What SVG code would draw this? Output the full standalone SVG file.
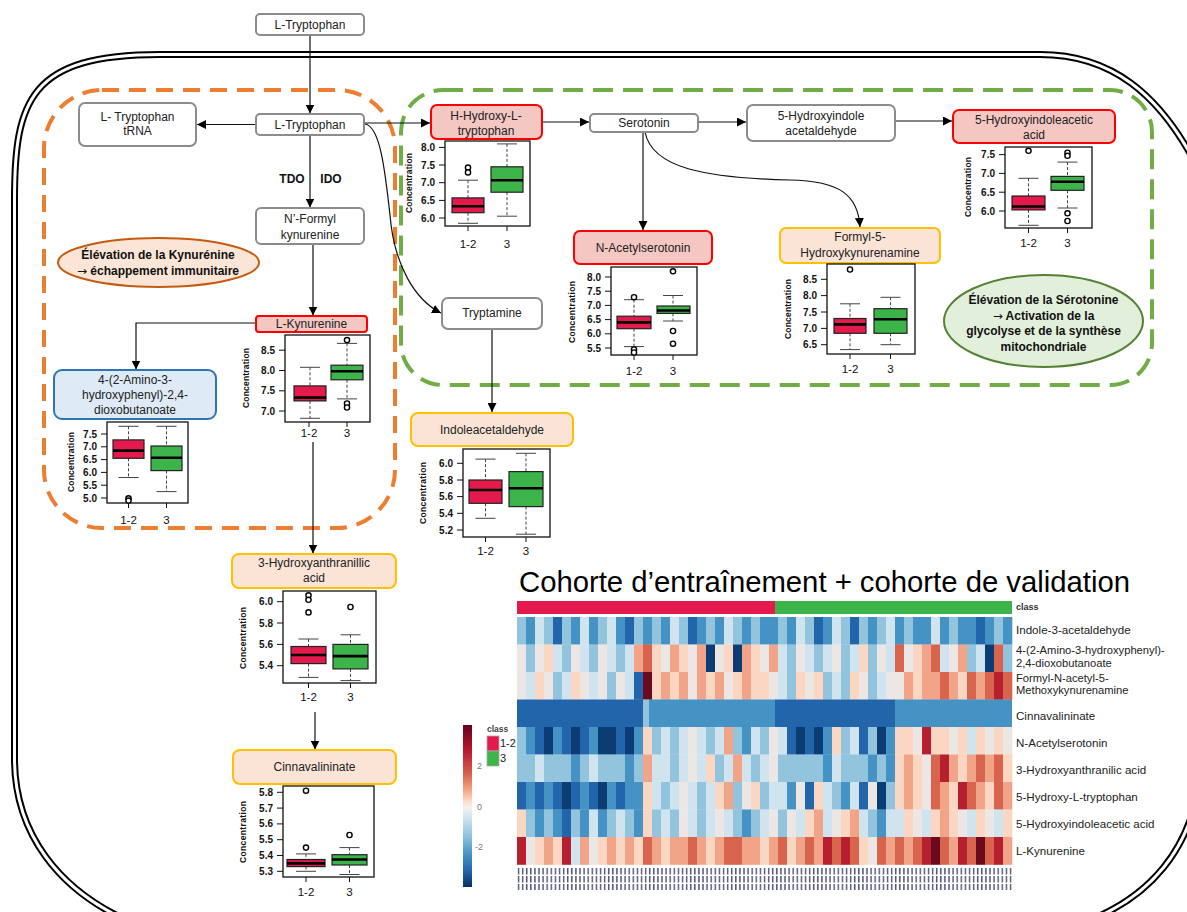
<svg xmlns="http://www.w3.org/2000/svg" width="1187" height="912" viewBox="0 0 1187 912">
<style>
text{font-family:"Liberation Sans",Arial,sans-serif}
.n{font-size:12px;fill:#222;text-anchor:middle}
.bd{font-weight:bold;fill:#111}
.ar{font-family:"DejaVu Sans",sans-serif;font-weight:normal;font-size:12px}
.gy{fill:#fff;stroke:#8c8c8c;stroke-width:2}
.rd{fill:#f4c7c3;stroke:#ff0000;stroke-width:2}
.or{fill:#fbe4d6;stroke:#ffc000;stroke-width:2}
.bl{fill:#deebf7;stroke:#2e75b6;stroke-width:2}
.ek{fill:#fbe5d6;stroke:#c55a11;stroke-width:2}
.es{fill:#e2efda;stroke:#548235;stroke-width:2}
.cn{fill:none;stroke:#111;stroke-width:1.2;marker-end:url(#ah)}
.fr{fill:#fff;stroke:#111;stroke-width:1.3}
.ax{stroke:#111;stroke-width:1;fill:none}
.tk{font-size:10px;font-weight:bold;text-anchor:end;fill:#111}
.cl{font-size:8.5px;font-weight:bold;text-anchor:middle;fill:#111}
.xl{font-size:11.5px;text-anchor:middle;fill:#111}
.bR{fill:#e31a4b;stroke:#222;stroke-width:1.2}
.bG{fill:#3cb44a;stroke:#222;stroke-width:1.2}
.md{stroke:#000;stroke-width:2.6}
.wk{stroke:#444;stroke-width:1;stroke-dasharray:3 2;fill:none}
.cp{stroke:#444;stroke-width:1}
.ol{fill:#fff;stroke:#000;stroke-width:1.4}
.hl{font-size:11.6px;fill:#222}
.h2{font-size:11.2px;fill:#222}
.hm rect{width:9.3px;height:27.8px}
.a{fill:#0b3c74}.b{fill:#2265ab}.c{fill:#4592c4}.d{fill:#92c4de}.e{fill:#d0e4ef}.f{fill:#ece7e4}.g{fill:#fbd6c3}.h{fill:#f1a487}.i{fill:#d8644e}.j{fill:#b51f2e}.k{fill:#6a0a1f}
</style>
<defs>
<marker id="ah" viewBox="0 0 10 10" refX="10" refY="5" markerWidth="9" markerHeight="9" markerUnits="userSpaceOnUse" orient="auto"><path d="M0,0L10,5L0,10z" fill="#000"/></marker>
<linearGradient id="cb" x1="0" y1="0" x2="0" y2="1">
<stop offset="0" stop-color="#67001f"/><stop offset="0.15" stop-color="#b2182b"/><stop offset="0.3" stop-color="#d6604d"/><stop offset="0.4" stop-color="#f4a582"/><stop offset="0.47" stop-color="#fddbc7"/><stop offset="0.51" stop-color="#f4f2f0"/><stop offset="0.57" stop-color="#d1e5f0"/><stop offset="0.68" stop-color="#92c5de"/><stop offset="0.8" stop-color="#4393c3"/><stop offset="0.9" stop-color="#2166ac"/><stop offset="1" stop-color="#053061"/>
</linearGradient>
<pattern id="clp" width="4.1" height="24" patternUnits="userSpaceOnUse" x="517" y="867"><path d="M1.5,1v6.5M1.5,9v6.5M1.5,17v6" stroke="#2a2f5a" stroke-width="1.5"/></pattern>
</defs>

<g id="cell-boundary" fill="none">
<path d="M140,926 C55,892 15,830 14.5,760 L14.5,200 C14.5,100 30,54.5 160,54.5 L1040,54.5 C1110,54.5 1160,92 1200,172" stroke="#000" stroke-width="7"/>
<path d="M140,926 C55,892 15,830 14.5,760 L14.5,200 C14.5,100 30,54.5 160,54.5 L1040,54.5 C1110,54.5 1160,92 1200,172" stroke="#fff" stroke-width="3"/>
<path d="M1200,780 C1190,850 1150,896 1090,920" stroke="#000" stroke-width="7"/>
<path d="M1200,780 C1190,850 1150,896 1090,920" stroke="#fff" stroke-width="3"/>
</g>

<g id="regions" fill="none" stroke-width="4">
<rect x="44" y="90" width="351" height="438" rx="58" stroke="#ed7d31" stroke-dasharray="17 10"/>
<rect x="401" y="90" width="751" height="295" rx="42" stroke="#70ad47" stroke-dasharray="20 10"/>
</g>

<g id="connectors">
<path class="cn" d="M310,35V113.5"/>
<path class="cn" d="M256,124.5H197"/>
<path class="cn" d="M364,123H430"/>
<path class="cn" d="M310,135V207.5"/>
<path class="cn" d="M313,244V315.5"/>
<path class="cn" d="M256,323H136V369.5"/>
<path class="cn" d="M313,442V553.5"/>
<path class="cn" d="M315,712V749.5"/>
<path class="cn" d="M365,124C380,126 385,170 390,215C394,265 415,300 441,313"/>
<path class="cn" d="M542,122H589"/>
<path class="cn" d="M698,122H746"/>
<path class="cn" d="M895,121H952"/>
<path class="cn" d="M643,132V230"/>
<path class="cn" d="M645,132C652,168 705,178 790,180C840,181 858,195 860,227"/>
<path class="cn" d="M492,329V412"/>
</g>

<g id="n-trp-top"><rect class="gy" x="256" y="14" width="108" height="21" rx="4"/><text class="n" x="310" y="29">L-Tryptophan</text></g>
<g id="n-trp"><rect class="gy" x="256" y="114" width="108" height="21" rx="4"/><text class="n" x="310" y="129">L-Tryptophan</text></g>
<g id="n-trna"><rect class="gy" x="79" y="103" width="117" height="43" rx="6"/><text class="n" x="137.5" y="121">L- Tryptophan</text><text class="n" x="137.5" y="135">tRNA</text></g>
<g id="n-nfk"><rect class="gy" x="256" y="208" width="108" height="36" rx="5"/><text class="n" x="310" y="223">N’-Formyl</text><text class="n" x="310" y="239">kynurenine</text></g>
<g id="enzymes"><text class="n bd" x="292" y="183">TDO</text><text class="n bd" x="331" y="183">IDO</text></g>
<g id="note-kyn"><ellipse class="ek" cx="158.5" cy="262.5" rx="100.5" ry="24.5"/><text class="n bd" x="158" y="259">Élévation de la Kynurénine</text><text class="n bd" x="158" y="275"><tspan class="ar">→</tspan> échappement immunitaire</text></g>

<g id="n-lkyn"><rect class="rd" x="256" y="316" width="111" height="16" rx="3"/><text class="n" x="311.5" y="328">L-Kynurenine</text>
<rect class="fr" x="285" y="335" width="85" height="87"/>
<path class="ax" d="M279,350.2h6M279,370.5h6M279,390.8h6M279,411h6M309,422v5M347,422v5"/>
<text class="tk" x="275" y="353.7">8.5</text><text class="tk" x="275" y="374">8.0</text><text class="tk" x="275" y="394.3">7.5</text><text class="tk" x="275" y="414.5">7.0</text>
<text class="cl" transform="translate(249,378) rotate(-90)" textLength="60">Concentration</text>
<text class="xl" x="309" y="437">1-2</text><text class="xl" x="347" y="437">3</text>
<path class="wk" d="M310,367.3V385.9M310,400.9V418.3M347,343.4V365.2M347,379.8V398.9"/>
<path class="cp" d="M300,367.3h20M300,418.3h20M337,343.4h20M337,398.9h20"/>
<rect class="bR" x="294" y="385.9" width="32" height="15"/><rect class="bG" x="331" y="365.2" width="32" height="14.6"/>
<path class="md" d="M294,397.6h32M331,371.3h32"/>
<circle class="ol" cx="347" cy="340.1" r="2.6"/><circle class="ol" cx="347" cy="403.5" r="2.6"/><circle class="ol" cx="347" cy="407.5" r="2.6"/>
</g>

<g id="n-ahdb"><rect class="bl" x="54" y="370" width="162" height="49" rx="8"/><text class="n" x="135" y="384">4-(2-Amino-3-</text><text class="n" x="135" y="399">hydroxyphenyl)-2,4-</text><text class="n" x="135" y="414">dioxobutanoate</text>
<rect class="fr" x="107" y="422" width="81" height="81"/>
<path class="ax" d="M101,434h6M101,446.8h6M101,459.6h6M101,472.4h6M101,485.2h6M101,498h6M128.5,503v5M166.5,503v5"/>
<text class="tk" x="97" y="437.5">7.5</text><text class="tk" x="97" y="450.3">7.0</text><text class="tk" x="97" y="463.1">6.5</text><text class="tk" x="97" y="475.9">6.0</text><text class="tk" x="97" y="488.7">5.5</text><text class="tk" x="97" y="501.5">5.0</text>
<text class="cl" transform="translate(74,462) rotate(-90)" textLength="60">Concentration</text>
<text class="xl" x="128.5" y="524">1-2</text><text class="xl" x="166.5" y="524">3</text>
<path class="wk" d="M128.5,426.3V439.9M128.5,458.3V477.5M166.5,426.3V446M166.5,470.6V491.6"/>
<path class="cp" d="M118.5,426.3h20M118.5,477.5h20M156.5,426.3h20M156.5,491.6h20"/>
<rect class="bR" x="113" y="439.9" width="31" height="18.4"/><rect class="bG" x="151" y="446" width="31" height="24.6"/>
<path class="md" d="M113,450.6h31M151,457.8h31"/>
<circle class="ol" cx="128.5" cy="498.3" r="2.6"/><circle class="ol" cx="128.5" cy="500.6" r="2.6"/>
</g>

<g id="n-5htp"><rect class="rd" x="431" y="105" width="111" height="34" rx="6"/><text class="n" x="486" y="120">H-Hydroxy-L-</text><text class="n" x="486" y="135">tryptophan</text>
<rect class="fr" x="445" y="141" width="85" height="85"/>
<path class="ax" d="M439,147.4h6M439,165h6M439,182.7h6M439,200.4h6M439,218h6M468,226v5M507,226v5"/>
<text class="tk" x="435" y="150.9">8.0</text><text class="tk" x="435" y="168.5">7.5</text><text class="tk" x="435" y="186.2">7.0</text><text class="tk" x="435" y="203.9">6.5</text><text class="tk" x="435" y="221.5">6.0</text>
<text class="cl" transform="translate(412,183) rotate(-90)" textLength="60">Concentration</text>
<text class="xl" x="468" y="248">1-2</text><text class="xl" x="507" y="248">3</text>
<path class="wk" d="M468,180.2V197.9M468,212.7V223.3M507,143.9V166.8M507,192.2V216.2"/>
<path class="cp" d="M458,180.2h20M458,223.3h20M497,143.9h20M497,216.2h20"/>
<rect class="bR" x="452" y="197.9" width="32" height="14.8"/><rect class="bG" x="491" y="166.8" width="32" height="25.4"/>
<path class="md" d="M452,206.3h32M491,180.2h32"/>
<circle class="ol" cx="468" cy="167.6" r="2.6"/><circle class="ol" cx="468" cy="172.4" r="2.6"/>
</g>

<g id="n-sero"><rect class="gy" x="590" y="114" width="108" height="18" rx="4"/><text class="n" x="644" y="127">Serotonin</text></g>
<g id="n-5hial"><rect class="gy" x="747" y="105" width="148" height="36" rx="6"/><text class="n" x="821" y="120">5-Hydroxyindole</text><text class="n" x="821" y="135">acetaldehyde</text></g>

<g id="n-5hiaa"><rect class="rd" x="953" y="110" width="162" height="33" rx="6"/><text class="n" x="1034" y="124">5-Hydroxyindoleacetic</text><text class="n" x="1034" y="139">acid</text>
<rect class="fr" x="1005" y="147" width="87" height="81"/>
<path class="ax" d="M999,154.6h6M999,173.4h6M999,192.2h6M999,211h6M1028.5,228v5M1067.5,228v5"/>
<text class="tk" x="995" y="158.1">7.5</text><text class="tk" x="995" y="176.9">7.0</text><text class="tk" x="995" y="195.7">6.5</text><text class="tk" x="995" y="214.5">6.0</text>
<text class="cl" transform="translate(971,187) rotate(-90)" textLength="60">Concentration</text>
<text class="xl" x="1028.5" y="247">1-2</text><text class="xl" x="1067.5" y="247">3</text>
<path class="wk" d="M1028.5,178.3V196M1028.5,209.9V225.3M1067.5,162.1V176.4M1067.5,190.3V208"/>
<path class="cp" d="M1018.5,178.3h20M1018.5,225.3h20M1057.5,162.1h20M1057.5,208h20"/>
<rect class="bR" x="1012" y="196" width="33" height="13.9"/><rect class="bG" x="1051" y="176.4" width="33" height="13.9"/>
<path class="md" d="M1012,206.5h33M1051,181.7h33"/>
<circle class="ol" cx="1028.5" cy="150.8" r="2.6"/><circle class="ol" cx="1067.5" cy="152.7" r="2.6"/><circle class="ol" cx="1067.5" cy="155.8" r="2.6"/><circle class="ol" cx="1067.5" cy="213.3" r="2.6"/><circle class="ol" cx="1067.5" cy="221" r="2.6"/>
</g>

<g id="n-nas"><rect class="rd" x="574" y="231" width="138" height="33" rx="6"/><text class="n" x="643" y="252">N-Acetylserotonin</text>
<rect class="fr" x="611" y="267" width="86" height="88"/>
<path class="ax" d="M605,277h6M605,291.2h6M605,305.4h6M605,319.6h6M605,333.8h6M605,348h6M634,355v5M673,355v5"/>
<text class="tk" x="601" y="280.5">8.0</text><text class="tk" x="601" y="294.7">7.5</text><text class="tk" x="601" y="308.9">7.0</text><text class="tk" x="601" y="323.1">6.5</text><text class="tk" x="601" y="337.3">6.0</text><text class="tk" x="601" y="351.5">5.5</text>
<text class="cl" transform="translate(575,312) rotate(-90)" textLength="62">Concentration</text>
<text class="xl" x="634" y="375">1-2</text><text class="xl" x="673" y="375">3</text>
<path class="wk" d="M634,299.7V316.2M634,328.7V346.6M673,295.5V306M673,313.4V321"/>
<path class="cp" d="M624,299.7h20M624,346.6h20M663,295.5h20M663,321h20"/>
<rect class="bR" x="617" y="316.2" width="34" height="12.5"/><rect class="bG" x="657" y="306" width="33" height="7.4"/>
<path class="md" d="M617,322.4h34M657,310.5h33"/>
<circle class="ol" cx="634" cy="297.2" r="2.6"/><circle class="ol" cx="634" cy="349.5" r="2.6"/><circle class="ol" cx="634" cy="352.5" r="2.6"/><circle class="ol" cx="673" cy="271.3" r="2.6"/><circle class="ol" cx="673" cy="331" r="2.6"/><circle class="ol" cx="673" cy="343.7" r="2.6"/>
</g>

<g id="n-f5hk"><rect class="or" x="780" y="228" width="160" height="35" rx="6"/><text class="n" x="860" y="241">Formyl-5-</text><text class="n" x="860" y="257">Hydroxykynurenamine</text>
<rect class="fr" x="827" y="264" width="88" height="90"/>
<path class="ax" d="M821,279.3h6M821,295.6h6M821,312h6M821,328.4h6M821,344.7h6M850,354v5M890.5,354v5"/>
<text class="tk" x="817" y="282.8">8.5</text><text class="tk" x="817" y="299.1">8.0</text><text class="tk" x="817" y="315.5">7.5</text><text class="tk" x="817" y="331.9">7.0</text><text class="tk" x="817" y="348.2">6.5</text>
<text class="cl" transform="translate(791,309) rotate(-90)" textLength="60">Concentration</text>
<text class="xl" x="850" y="373">1-2</text><text class="xl" x="890.5" y="373">3</text>
<path class="wk" d="M850,303.8V318.5M850,333.3V349.6M890.5,297.3V308.7M890.5,333.3V344.7"/>
<path class="cp" d="M840,303.8h20M840,349.6h20M880.5,297.3h20M880.5,344.7h20"/>
<rect class="bR" x="834" y="318.5" width="32" height="14.8"/><rect class="bG" x="874" y="308.7" width="33" height="24.6"/>
<path class="md" d="M834,324.4h32M874,319.2h33"/>
<circle class="ol" cx="850" cy="269.5" r="2.6"/>
</g>

<g id="note-sero"><ellipse class="es" cx="1043.5" cy="321" rx="99.5" ry="46"/><text class="n bd" x="1043.5" y="304">Élévation de la Sérotonine</text><text class="n bd" x="1043.5" y="319.5"><tspan class="ar">→</tspan> Activation de la</text><text class="n bd" x="1043.5" y="335">glycolyse et de la synthèse</text><text class="n bd" x="1043.5" y="350.5">mitochondriale</text></g>

<g id="n-tryptamine"><rect class="gy" x="442" y="298" width="100" height="31" rx="6"/><text class="n" x="492" y="317">Tryptamine</text></g>

<g id="n-ial"><rect class="or" x="411" y="413" width="162" height="33" rx="7"/><text class="n" x="492" y="434">Indoleacetaldehyde</text>
<rect class="fr" x="463" y="449" width="87" height="88"/>
<path class="ax" d="M457,463.3h6M457,480h6M457,496.6h6M457,513.3h6M457,530h6M485.5,537v5M526,537v5"/>
<text class="tk" x="453" y="466.8">6.0</text><text class="tk" x="453" y="483.5">5.8</text><text class="tk" x="453" y="500.1">5.6</text><text class="tk" x="453" y="516.8">5.4</text><text class="tk" x="453" y="533.5">5.2</text>
<text class="cl" transform="translate(426,493) rotate(-90)" textLength="62">Concentration</text>
<text class="xl" x="485.5" y="555">1-2</text><text class="xl" x="526" y="555">3</text>
<path class="wk" d="M485.5,459.1V480M485.5,503.3V518.3M526,453.3V471.6M526,506.6V534.2"/>
<path class="cp" d="M475.5,459.1h20M475.5,518.3h20M516,453.3h20M516,534.2h20"/>
<rect class="bR" x="469" y="480" width="33" height="23.3"/><rect class="bG" x="509" y="471.6" width="34" height="35"/>
<path class="md" d="M469,490h33M509,488.3h34"/>
</g>

<g id="n-3ha"><rect class="or" x="232" y="554" width="164" height="34" rx="7"/><text class="n" x="314" y="567">3-Hydroxyanthranillic</text><text class="n" x="314" y="582">acid</text>
<rect class="fr" x="283" y="591" width="93" height="92"/>
<path class="ax" d="M277,601.7h6M277,623h6M277,644.4h6M277,665.7h6M308.5,683v5M350.5,683v5"/>
<text class="tk" x="273" y="605.2">6.0</text><text class="tk" x="273" y="626.5">5.8</text><text class="tk" x="273" y="647.9">5.6</text><text class="tk" x="273" y="669.2">5.4</text>
<text class="cl" transform="translate(246,638) rotate(-90)" textLength="62">Concentration</text>
<text class="xl" x="308.5" y="701">1-2</text><text class="xl" x="350.5" y="701">3</text>
<path class="wk" d="M308.5,639V646.5M308.5,663.6V677.4M350.5,634.8V644.4M350.5,668.9V680.6"/>
<path class="cp" d="M298.5,639h20M298.5,677.4h20M340.5,634.8h20M340.5,680.6h20"/>
<rect class="bR" x="291" y="646.5" width="35" height="17.1"/><rect class="bG" x="333" y="644.4" width="35" height="24.5"/>
<path class="md" d="M291,655h35M333,656.1h35"/>
<circle class="ol" cx="308.5" cy="595.3" r="2.6"/><circle class="ol" cx="308.5" cy="599.8" r="2.6"/><circle class="ol" cx="308.5" cy="612.4" r="2.6"/><circle class="ol" cx="350.5" cy="607" r="2.6"/>
</g>

<g id="n-cinna"><rect class="or" x="233" y="750" width="163" height="34" rx="7"/><text class="n" x="314.5" y="771">Cinnavalininate</text>
<rect class="fr" x="283" y="786" width="91" height="91"/>
<path class="ax" d="M277,792.3h6M277,808.1h6M277,823.9h6M277,839.7h6M277,855.5h6M277,871.3h6M306,877v5M349.5,877v5"/>
<text class="tk" x="273" y="795.8">5.8</text><text class="tk" x="273" y="811.6">5.7</text><text class="tk" x="273" y="827.4">5.6</text><text class="tk" x="273" y="843.2">5.5</text><text class="tk" x="273" y="859">5.4</text><text class="tk" x="273" y="874.8">5.3</text>
<text class="cl" transform="translate(246,832) rotate(-90)" textLength="62">Concentration</text>
<text class="xl" x="306" y="896">1-2</text><text class="xl" x="349.5" y="896">3</text>
<path class="wk" d="M306,853.9V859.5M306,866.6V871.3M349.5,847.6V854.7M349.5,865V874.5"/>
<path class="cp" d="M296,853.9h20M296,871.3h20M339.5,847.6h20M339.5,874.5h20"/>
<rect class="bR" x="287" y="859.5" width="38" height="7.1"/><rect class="bG" x="332" y="854.7" width="35" height="10.3"/>
<path class="md" d="M287,863.4h38M332,859.5h35"/>
<circle class="ol" cx="306" cy="790.7" r="2.6"/><circle class="ol" cx="306" cy="847.6" r="2.6"/><circle class="ol" cx="349.5" cy="835" r="2.6"/>
</g>

<g id="heatmap">
<text x="519" y="592" font-size="29" textLength="611" lengthAdjust="spacingAndGlyphs" fill="#000">Cohorte d’entraînement + cohorte de validation</text>
<rect x="517" y="601" width="258" height="13" fill="#e31a4b"/><rect x="775" y="601" width="237" height="13" fill="#3cb44a"/>
<text x="1016" y="610" font-size="9" font-weight="bold" fill="#333">class</text>
<g class="hm">
<g transform="translate(0,617)"><rect x="517" class="d"/><rect x="526" class="c"/><rect x="535" class="e"/><rect x="544" class="d"/><rect x="553" class="b"/><rect x="562" class="d"/><rect x="571" class="c"/><rect x="580" class="e"/><rect x="589" class="c"/><rect x="598" class="d"/><rect x="607" class="e"/><rect x="616" class="c"/><rect x="625" class="b"/><rect x="634" class="d"/><rect x="643" class="c"/><rect x="652" class="d"/><rect x="661" class="c"/><rect x="670" class="e"/><rect x="679" class="d"/><rect x="688" class="b"/><rect x="697" class="c"/><rect x="706" class="d"/><rect x="715" class="c"/><rect x="724" class="e"/><rect x="733" class="d"/><rect x="742" class="c"/><rect x="751" class="d"/><rect x="760" class="c"/><rect x="769" class="c"/><rect x="778" class="d"/><rect x="787" class="c"/><rect x="796" class="e"/><rect x="805" class="d"/><rect x="814" class="b"/><rect x="823" class="c"/><rect x="832" class="e"/><rect x="841" class="d"/><rect x="850" class="b"/><rect x="859" class="d"/><rect x="868" class="c"/><rect x="877" class="d"/><rect x="886" class="e"/><rect x="895" class="c"/><rect x="904" class="d"/><rect x="913" class="c"/><rect x="922" class="c"/><rect x="931" class="e"/><rect x="940" class="c"/><rect x="949" class="d"/><rect x="958" class="c"/><rect x="967" class="c"/><rect x="976" class="b"/><rect x="985" class="c"/><rect x="994" class="d"/><rect x="1003" class="c"/></g>
<g transform="translate(0,644.5)"><rect x="517" class="f"/><rect x="526" class="d"/><rect x="535" class="f"/><rect x="544" class="g"/><rect x="553" class="e"/><rect x="562" class="d"/><rect x="571" class="f"/><rect x="580" class="e"/><rect x="589" class="d"/><rect x="598" class="f"/><rect x="607" class="e"/><rect x="616" class="d"/><rect x="625" class="e"/><rect x="634" class="h"/><rect x="643" class="i"/><rect x="652" class="g"/><rect x="661" class="f"/><rect x="670" class="h"/><rect x="679" class="g"/><rect x="688" class="f"/><rect x="697" class="h"/><rect x="706" class="a"/><rect x="715" class="f"/><rect x="724" class="g"/><rect x="733" class="a"/><rect x="742" class="h"/><rect x="751" class="g"/><rect x="760" class="f"/><rect x="769" class="h"/><rect x="778" class="e"/><rect x="787" class="d"/><rect x="796" class="f"/><rect x="805" class="e"/><rect x="814" class="d"/><rect x="823" class="e"/><rect x="832" class="f"/><rect x="841" class="d"/><rect x="850" class="e"/><rect x="859" class="g"/><rect x="868" class="d"/><rect x="877" class="f"/><rect x="886" class="e"/><rect x="895" class="i"/><rect x="904" class="f"/><rect x="913" class="g"/><rect x="922" class="h"/><rect x="931" class="i"/><rect x="940" class="e"/><rect x="949" class="f"/><rect x="958" class="h"/><rect x="967" class="d"/><rect x="976" class="e"/><rect x="985" class="a"/><rect x="994" class="i"/><rect x="1003" class="d"/></g>
<g transform="translate(0,672)"><rect x="517" class="f"/><rect x="526" class="e"/><rect x="535" class="g"/><rect x="544" class="f"/><rect x="553" class="d"/><rect x="562" class="e"/><rect x="571" class="g"/><rect x="580" class="f"/><rect x="589" class="e"/><rect x="598" class="f"/><rect x="607" class="d"/><rect x="616" class="f"/><rect x="625" class="e"/><rect x="634" class="b"/><rect x="643" class="k"/><rect x="652" class="g"/><rect x="661" class="h"/><rect x="670" class="g"/><rect x="679" class="h"/><rect x="688" class="f"/><rect x="697" class="h"/><rect x="706" class="g"/><rect x="715" class="h"/><rect x="724" class="f"/><rect x="733" class="g"/><rect x="742" class="h"/><rect x="751" class="g"/><rect x="760" class="g"/><rect x="769" class="f"/><rect x="778" class="e"/><rect x="787" class="d"/><rect x="796" class="g"/><rect x="805" class="f"/><rect x="814" class="g"/><rect x="823" class="d"/><rect x="832" class="e"/><rect x="841" class="d"/><rect x="850" class="g"/><rect x="859" class="f"/><rect x="868" class="d"/><rect x="877" class="e"/><rect x="886" class="f"/><rect x="895" class="f"/><rect x="904" class="h"/><rect x="913" class="g"/><rect x="922" class="h"/><rect x="931" class="h"/><rect x="940" class="i"/><rect x="949" class="h"/><rect x="958" class="g"/><rect x="967" class="i"/><rect x="976" class="h"/><rect x="985" class="i"/><rect x="994" class="j"/><rect x="1003" class="i"/></g>
</g>
<g id="row-cinna">
<rect x="517" y="699.5" width="126.3" height="27.8" class="b"/><rect x="643" y="699.5" width="6" height="27.8" class="d"/><rect x="649" y="699.5" width="126.3" height="27.8" class="c"/><rect x="775" y="699.5" width="120.3" height="27.8" class="b"/><rect x="895" y="699.5" width="117" height="27.8" class="c"/>
</g>
<g class="hm">
<g transform="translate(0,727)"><rect x="517" class="d"/><rect x="526" class="c"/><rect x="535" class="b"/><rect x="544" class="a"/><rect x="553" class="c"/><rect x="562" class="b"/><rect x="571" class="a"/><rect x="580" class="b"/><rect x="589" class="c"/><rect x="598" class="a"/><rect x="607" class="a"/><rect x="616" class="b"/><rect x="625" class="a"/><rect x="634" class="c"/><rect x="643" class="g"/><rect x="652" class="d"/><rect x="661" class="e"/><rect x="670" class="d"/><rect x="679" class="e"/><rect x="688" class="f"/><rect x="697" class="e"/><rect x="706" class="d"/><rect x="715" class="e"/><rect x="724" class="h"/><rect x="733" class="d"/><rect x="742" class="c"/><rect x="751" class="e"/><rect x="760" class="d"/><rect x="769" class="f"/><rect x="778" class="e"/><rect x="787" class="b"/><rect x="796" class="a"/><rect x="805" class="b"/><rect x="814" class="a"/><rect x="823" class="c"/><rect x="832" class="g"/><rect x="841" class="d"/><rect x="850" class="e"/><rect x="859" class="b"/><rect x="868" class="d"/><rect x="877" class="a"/><rect x="886" class="c"/><rect x="895" class="g"/><rect x="904" class="g"/><rect x="913" class="f"/><rect x="922" class="j"/><rect x="931" class="g"/><rect x="940" class="g"/><rect x="949" class="f"/><rect x="958" class="g"/><rect x="967" class="e"/><rect x="976" class="g"/><rect x="985" class="f"/><rect x="994" class="g"/><rect x="1003" class="f"/></g>
<g transform="translate(0,754.5)"><rect x="517" class="d"/><rect x="526" class="d"/><rect x="535" class="e"/><rect x="544" class="d"/><rect x="553" class="d"/><rect x="562" class="d"/><rect x="571" class="c"/><rect x="580" class="d"/><rect x="589" class="e"/><rect x="598" class="d"/><rect x="607" class="d"/><rect x="616" class="d"/><rect x="625" class="c"/><rect x="634" class="d"/><rect x="643" class="h"/><rect x="652" class="e"/><rect x="661" class="e"/><rect x="670" class="d"/><rect x="679" class="e"/><rect x="688" class="f"/><rect x="697" class="e"/><rect x="706" class="g"/><rect x="715" class="d"/><rect x="724" class="e"/><rect x="733" class="h"/><rect x="742" class="e"/><rect x="751" class="d"/><rect x="760" class="e"/><rect x="769" class="f"/><rect x="778" class="d"/><rect x="787" class="d"/><rect x="796" class="d"/><rect x="805" class="d"/><rect x="814" class="d"/><rect x="823" class="c"/><rect x="832" class="e"/><rect x="841" class="d"/><rect x="850" class="d"/><rect x="859" class="d"/><rect x="868" class="c"/><rect x="877" class="d"/><rect x="886" class="c"/><rect x="895" class="g"/><rect x="904" class="h"/><rect x="913" class="g"/><rect x="922" class="f"/><rect x="931" class="i"/><rect x="940" class="j"/><rect x="949" class="h"/><rect x="958" class="g"/><rect x="967" class="h"/><rect x="976" class="i"/><rect x="985" class="h"/><rect x="994" class="i"/><rect x="1003" class="g"/></g>
<g transform="translate(0,782)"><rect x="517" class="b"/><rect x="526" class="c"/><rect x="535" class="b"/><rect x="544" class="c"/><rect x="553" class="b"/><rect x="562" class="a"/><rect x="571" class="b"/><rect x="580" class="c"/><rect x="589" class="b"/><rect x="598" class="a"/><rect x="607" class="c"/><rect x="616" class="b"/><rect x="625" class="c"/><rect x="634" class="c"/><rect x="643" class="g"/><rect x="652" class="e"/><rect x="661" class="d"/><rect x="670" class="e"/><rect x="679" class="f"/><rect x="688" class="e"/><rect x="697" class="d"/><rect x="706" class="e"/><rect x="715" class="g"/><rect x="724" class="h"/><rect x="733" class="d"/><rect x="742" class="f"/><rect x="751" class="g"/><rect x="760" class="d"/><rect x="769" class="e"/><rect x="778" class="e"/><rect x="787" class="c"/><rect x="796" class="f"/><rect x="805" class="b"/><rect x="814" class="g"/><rect x="823" class="e"/><rect x="832" class="d"/><rect x="841" class="c"/><rect x="850" class="e"/><rect x="859" class="b"/><rect x="868" class="f"/><rect x="877" class="a"/><rect x="886" class="d"/><rect x="895" class="g"/><rect x="904" class="h"/><rect x="913" class="g"/><rect x="922" class="f"/><rect x="931" class="i"/><rect x="940" class="h"/><rect x="949" class="g"/><rect x="958" class="j"/><rect x="967" class="i"/><rect x="976" class="h"/><rect x="985" class="g"/><rect x="994" class="i"/><rect x="1003" class="h"/></g>
<g transform="translate(0,809.5)"><rect x="517" class="g"/><rect x="526" class="d"/><rect x="535" class="c"/><rect x="544" class="d"/><rect x="553" class="c"/><rect x="562" class="b"/><rect x="571" class="d"/><rect x="580" class="c"/><rect x="589" class="e"/><rect x="598" class="c"/><rect x="607" class="d"/><rect x="616" class="e"/><rect x="625" class="d"/><rect x="634" class="c"/><rect x="643" class="g"/><rect x="652" class="d"/><rect x="661" class="e"/><rect x="670" class="d"/><rect x="679" class="f"/><rect x="688" class="e"/><rect x="697" class="d"/><rect x="706" class="e"/><rect x="715" class="f"/><rect x="724" class="e"/><rect x="733" class="d"/><rect x="742" class="c"/><rect x="751" class="d"/><rect x="760" class="e"/><rect x="769" class="f"/><rect x="778" class="d"/><rect x="787" class="f"/><rect x="796" class="e"/><rect x="805" class="g"/><rect x="814" class="h"/><rect x="823" class="e"/><rect x="832" class="f"/><rect x="841" class="g"/><rect x="850" class="h"/><rect x="859" class="e"/><rect x="868" class="d"/><rect x="877" class="c"/><rect x="886" class="e"/><rect x="895" class="e"/><rect x="904" class="g"/><rect x="913" class="f"/><rect x="922" class="e"/><rect x="931" class="g"/><rect x="940" class="h"/><rect x="949" class="g"/><rect x="958" class="f"/><rect x="967" class="e"/><rect x="976" class="g"/><rect x="985" class="f"/><rect x="994" class="e"/><rect x="1003" class="g"/></g>
<g transform="translate(0,837)"><rect x="517" class="j"/><rect x="526" class="f"/><rect x="535" class="g"/><rect x="544" class="h"/><rect x="553" class="g"/><rect x="562" class="j"/><rect x="571" class="e"/><rect x="580" class="h"/><rect x="589" class="f"/><rect x="598" class="g"/><rect x="607" class="h"/><rect x="616" class="g"/><rect x="625" class="h"/><rect x="634" class="g"/><rect x="643" class="i"/><rect x="652" class="h"/><rect x="661" class="g"/><rect x="670" class="h"/><rect x="679" class="h"/><rect x="688" class="i"/><rect x="697" class="h"/><rect x="706" class="g"/><rect x="715" class="h"/><rect x="724" class="i"/><rect x="733" class="i"/><rect x="742" class="h"/><rect x="751" class="h"/><rect x="760" class="g"/><rect x="769" class="h"/><rect x="778" class="i"/><rect x="787" class="g"/><rect x="796" class="h"/><rect x="805" class="i"/><rect x="814" class="h"/><rect x="823" class="j"/><rect x="832" class="i"/><rect x="841" class="j"/><rect x="850" class="i"/><rect x="859" class="g"/><rect x="868" class="f"/><rect x="877" class="i"/><rect x="886" class="h"/><rect x="895" class="i"/><rect x="904" class="h"/><rect x="913" class="i"/><rect x="922" class="j"/><rect x="931" class="k"/><rect x="940" class="i"/><rect x="949" class="h"/><rect x="958" class="j"/><rect x="967" class="i"/><rect x="976" class="k"/><rect x="985" class="i"/><rect x="994" class="j"/><rect x="1003" class="h"/></g>
</g>
<rect x="517" y="867" width="495" height="24" fill="url(#clp)" opacity="0.8"/>
<text class="hl" x="1016" y="634">Indole-3-acetaldehyde</text>
<text class="h2" x="1016" y="654">4-(2-Amino-3-hydroxyphenyl)-</text>
<text class="h2" x="1016" y="666.8">2,4-dioxobutanoate</text>
<text class="h2" x="1016" y="681.5">Formyl-N-acetyl-5-</text>
<text class="h2" x="1016" y="694.3">Methoxykynurenamine</text>
<text class="hl" x="1016" y="720">Cinnavalininate</text>
<text class="hl" x="1016" y="747">N-Acetylserotonin</text>
<text class="hl" x="1016" y="774">3-Hydroxyanthranilic acid</text>
<text class="hl" x="1016" y="801">5-Hydroxy-L-tryptophan</text>
<text class="hl" x="1016" y="828">5-Hydroxyindoleacetic acid</text>
<text class="hl" x="1016" y="855">L-Kynurenine</text>
</g>

<g id="heatmap-legend">
<rect x="463" y="725" width="9" height="162" fill="url(#cb)"/>
<text x="477" y="769" font-size="9" fill="#777">2</text>
<text x="477" y="810" font-size="9" fill="#777">0</text>
<text x="475" y="850" font-size="9" fill="#777">-2</text>
<text x="487" y="732" font-size="8.5" font-weight="bold" fill="#444">class</text>
<rect x="487" y="736" width="12" height="15" fill="#e31a4b" stroke="#aaa" stroke-width="0.8"/>
<rect x="487" y="751" width="12" height="15" fill="#3cb44a" stroke="#aaa" stroke-width="0.8"/>
<text x="500" y="747" font-size="11" fill="#222">1-2</text>
<text x="500" y="762" font-size="11" fill="#222">3</text>
</g>
</svg>
